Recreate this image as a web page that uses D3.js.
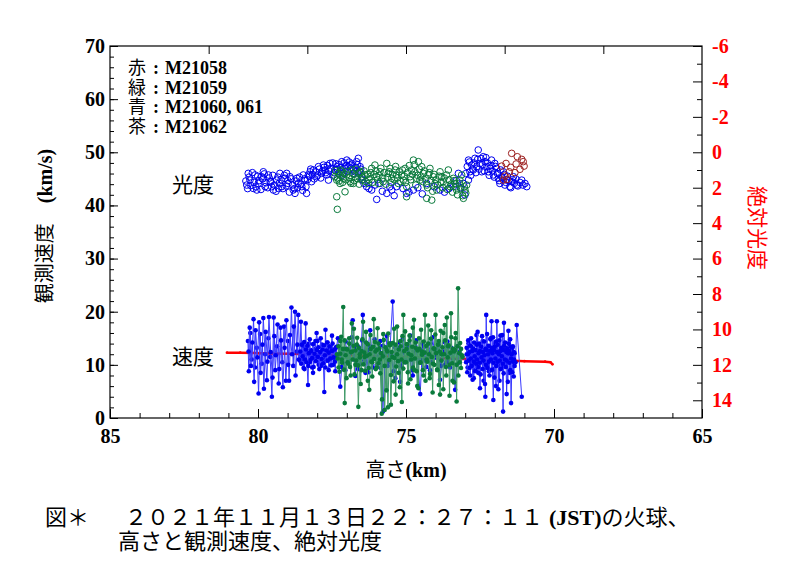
<!DOCTYPE html>
<html>
<head>
<meta charset="utf-8">
<title>火球 高さと観測速度、絶対光度</title>
<style>
  body { margin: 0; background: #fff; }
  svg { display: block; }
</style>
</head>
<body>
<svg width="800" height="580"></svg>
<script src="https://d3js.org/d3.v7.min.js"></script>
<script>
// ---- tick labels ----
var heightTicks = [85, 80, 75, 70, 65];
var speedTicks = [0, 10, 20, 30, 40, 50, 60, 70];
var magTicks = [-6, -4, -2, 0, 2, 4, 6, 8, 10, 12, 14];

// ---- legend ----
var legendColors = ["赤", "緑", "青", "茶"];
var legendNames = ["M21058", "M21059", "M21060, 061", "M21062"];

// ---- 観測速度 [高さ km, km/s] ----
var redSpeed = [[81.05,12.3],[80.6,12.3],[80.0,12.2],[79.0,12.1],[78.0,12.0],[77.0,11.8],[76.0,11.6],[75.0,11.5],
  [74.0,11.3],[73.0,11.1],[72.0,10.9],[71.0,10.7],[70.3,10.6],[70.12,10.5],[70.05,10.1]];

var blueSpeed060 = [
  [80.34,14.5],[80.31,8.8],[80.26,16.0],[80.21,11.0],[80.15,18.6],[80.10,9.5],[80.04,13.2],[79.98,4.6],
  [79.93,15.8],[79.87,10.2],[79.82,18.8],[79.76,12.0],[79.70,7.1],[79.65,15.0],[79.59,11.5],[79.53,4.0],
  [79.47,18.9],[79.42,9.0],[79.36,13.5],[79.30,6.5],[79.24,17.0],[79.18,10.5],[79.12,17.2],[79.06,7.0],
  [78.99,14.5],[78.95,7.0],[78.87,20.8],[78.81,9.8],[78.75,20.0],[78.69,12.5],[78.64,19.4],[78.59,10.8],
  [78.55,18.1],[78.51,11.0],[78.47,13.5],[78.43,9.2],[78.39,17.8],[78.36,12.0],[78.31,6.2],[78.28,14.0],
  [78.25,10.5],[78.21,12.8],[78.17,9.5],[78.14,8.5],[78.10,11.5],[78.06,13.0],[78.02,16.0],[77.99,14.5],
  [77.95,10.0],[77.91,12.2],[77.87,9.8],[77.84,13.8],[77.80,11.4],[77.76,4.9],[77.72,16.6],[77.69,10.8],
  [77.65,14.2],[77.61,9.0],[77.57,13.0],[77.54,11.2],[77.50,15.5],[77.46,10.0],[77.42,12.6],[77.39,8.8],
  [77.35,13.4],
  [77.30,15.0],[77.22,5.9],[77.13,12.5],[77.05,9.0],[76.96,13.0],[76.88,11.0],[76.80,18.4],[76.71,7.9],
  [76.63,13.5],[76.54,10.2],[76.46,19.4],[76.37,8.5],[76.29,12.8],[76.21,16.5],[76.12,9.5],[76.04,13.0],
  [75.95,11.5],[75.87,14.5],[75.78,1.2],[75.70,12.0],[75.62,9.8],[75.53,14.0],[75.45,21.9],[75.36,7.5],
  [75.28,13.2],[75.20,6.8],[75.11,14.8],[75.03,10.5],[74.94,12.4],[74.86,15.5],[74.77,8.0],[74.69,13.6],
  [74.61,11.0],[74.52,4.5],[74.44,14.0],[74.35,10.8],[74.27,12.6],[74.19,9.0],[74.10,15.2],[74.02,11.4],
  [73.93,13.0],[73.85,7.2],[73.76,12.2],[73.68,10.0],[73.60,14.4],[73.51,9.5],[73.43,12.8],[73.34,5.3],
  [73.26,13.5],[73.18,10.5],
  [72.95,12.0],[72.92,9.5],[72.89,14.0],[72.86,11.0],[72.83,8.0],[72.80,13.5],[72.77,10.2],[72.74,13.0],
  [72.71,7.5],[72.68,12.5],[72.65,9.0],[72.62,15.6],[72.59,11.0],[72.56,8.5],[72.53,13.8],[72.50,5.6],
  [72.47,12.5],[72.44,10.5],[72.41,14.5],[72.38,7.0],[72.35,12.8],[72.32,4.0],[72.29,19.4],[72.26,10.0],
  [72.23,13.5],[72.20,8.8],[72.17,11.5],[72.14,15.0],[72.11,18.2],[72.08,9.2],[72.05,3.4],[72.02,12.0],
  [71.99,14.0],[71.96,6.0],[71.93,18.2],[71.90,10.0],[71.87,12.5],[71.84,7.0],[71.81,15.5],[71.78,9.5],
  [71.75,11.8],[71.72,1.2],[71.69,17.9],[71.66,10.2],[71.63,13.2],[71.60,4.5],[71.57,12.0],[71.54,16.4],
  [71.51,8.5],[71.48,14.8],[71.45,2.8],[71.42,11.0],[71.39,13.5],[71.36,7.8],[71.33,12.2],[71.30,10.5],
  [71.26,17.5],[71.09,4.0]];

var blueSpeed061 = [
  [80.32,12.5],[80.28,17.0],[80.24,9.8],[80.19,14.2],[80.13,6.8],[80.08,16.5],[80.02,11.4],[79.96,18.0],
  [79.91,8.5],[79.85,13.8],[79.80,5.5],[79.74,16.2],[79.68,10.6],[79.63,19.0],[79.57,12.4],[79.51,7.6],
  [79.45,15.4],[79.40,11.8],[79.34,17.6],[79.28,9.2],[79.22,14.6],[79.16,5.8],[79.10,13.2],[79.04,18.4],
  [78.98,10.0],[78.92,15.6],[78.85,12.0],[78.79,17.2],[78.73,8.0],[78.67,13.8],[78.62,11.0],
  [78.57,12.5],[78.54,10.2],[78.52,13.8],[78.49,11.6],[78.46,9.4],[78.44,14.3],[78.41,11.0],[78.38,12.9],
  [78.36,10.5],[78.33,13.6],[78.30,9.8],[78.28,12.2],[78.25,14.8],[78.22,10.9],[78.20,12.6],[78.17,11.3],
  [78.14,13.9],[78.12,9.6],[78.09,12.1],[78.06,14.5],[78.04,10.7],[78.01,12.8],[77.98,11.5],[77.96,13.3],
  [77.93,9.2],[77.90,12.4],[77.88,15.0],[77.85,11.1],[77.82,12.9],[77.80,10.3],[77.77,13.7],[77.74,11.8],
  [77.72,9.5],[77.69,12.7],[77.66,14.2],[77.64,10.8],[77.61,12.3],[77.58,13.5],[77.56,11.2],[77.53,9.9],
  [77.50,12.6],[77.48,14.0],[77.45,11.4],[77.42,12.9],[77.40,10.6],[77.37,13.2],
  [77.32,11.5],[77.25,13.2],[77.18,9.6],[77.11,12.8],[77.04,14.4],[76.97,10.4],[76.90,12.2],[76.83,15.2],
  [76.76,11.0],[76.69,13.0],[76.62,9.2],[76.55,12.4],[76.48,14.6],[76.41,10.8],[76.34,12.6],[76.27,8.6],
  [76.20,13.4],[76.13,11.2],[76.06,14.8],[75.99,10.0],[75.92,12.8],[75.85,9.4],[75.78,13.6],[75.71,11.4],
  [75.64,15.4],[75.57,10.6],[75.50,12.0],[75.43,8.8],[75.36,13.2],[75.29,11.6],[75.22,14.2],[75.15,9.8],
  [75.08,12.4],[75.01,10.8],[74.94,13.8],[74.87,11.0],[74.80,9.0],[74.73,12.6],[74.66,14.6],[74.59,10.4],
  [74.52,12.8],[74.45,11.2],[74.38,13.4],[74.31,9.6],[74.24,12.2],[74.17,14.0],[74.10,10.6],[74.03,12.6],
  [73.96,11.4],[73.89,13.8],[73.82,9.8],[73.75,12.4],[73.68,14.2],[73.61,10.6],[73.54,12.0],[73.47,13.2],
  [73.40,11.0],[73.33,12.8],[73.26,10.2],[73.19,12.4],
  [72.97,10.5],[72.95,13.2],[72.93,8.6],[72.91,12.0],[72.90,14.6],[72.88,10.8],[72.86,12.4],[72.85,9.4],
  [72.83,13.6],[72.81,11.2],[72.80,15.0],[72.78,9.8],[72.76,12.6],[72.75,7.2],[72.73,13.0],[72.71,10.6],
  [72.70,14.2],[72.68,11.6],[72.66,8.8],[72.65,12.8],[72.63,10.2],[72.61,13.8],[72.60,11.0],[72.58,16.2],
  [72.56,9.6],[72.55,12.2],[72.53,14.0],[72.51,10.4],[72.50,12.6],[72.48,8.2],[72.46,13.4],[72.45,11.4],
  [72.43,15.4],[72.41,9.2],[72.40,12.4],[72.38,10.8],[72.36,14.4],[72.35,11.8],[72.33,6.4],[72.31,13.0],
  [72.30,10.0],[72.28,12.8],[72.26,15.8],[72.25,9.4],[72.23,12.0],[72.21,13.6],[72.20,10.6],[72.18,8.0],
  [72.16,12.6],[72.15,14.8],[72.13,11.0],[72.11,13.2],[72.10,9.0],[72.08,12.2],[72.06,15.2],[72.05,10.4],
  [72.03,12.8],[72.01,7.6],[72.00,13.4],[71.98,11.2],[71.96,14.4],[71.95,9.8],[71.93,12.4],[71.91,10.6],
  [71.90,13.8],[71.88,5.4],[71.86,12.0],[71.85,14.6],[71.83,10.8],[71.81,12.6],[71.80,9.2],[71.78,13.2],
  [71.76,11.6],[71.75,15.6],[71.73,10.2],[71.71,12.8],[71.70,8.4],[71.68,13.6],[71.66,11.0],[71.65,14.2],
  [71.63,9.6],[71.61,12.4],[71.60,10.8],[71.58,13.0],[71.56,6.8],[71.55,12.2],[71.53,14.0],[71.51,10.4],
  [71.50,12.6],[71.48,9.0],[71.46,13.4],[71.45,11.2],[71.43,12.0],[71.41,8.6],[71.40,13.2],[71.38,10.6],
  [71.36,12.4],[71.35,11.0],[71.33,9.8]];

var greenSpeed = [
  [77.33,12.0],[77.28,9.5],[77.22,14.5],[77.17,11.0],[77.12,20.9],[77.07,2.8],[77.02,13.0],[76.97,10.5],
  [76.92,15.0],[76.87,8.0],[76.82,12.5],[76.76,16.8],[76.71,10.0],[76.66,13.8],[76.61,2.1],[76.56,12.0],
  [76.50,9.0],[76.45,18.1],[76.40,11.5],[76.35,14.2],[76.29,7.0],[76.24,5.3],[76.19,13.0],[76.14,10.5],
  [76.09,18.6],[76.03,12.5],[75.98,9.5],[75.93,14.0],[75.88,11.0],[75.82,0.8],[75.77,15.8],[75.72,1.5],
  [75.66,12.8],[75.61,2.0],[75.56,14.0],[75.51,2.5],[75.46,11.5],[75.40,16.8],[75.35,4.4],[75.30,12.0],
  [75.25,8.5],[75.19,14.5],[75.14,3.0],[75.09,19.4],[75.04,10.5],[74.98,13.0],[74.93,6.5],[74.88,15.5],
  [74.82,11.0],[74.77,17.0],[74.72,9.0],[74.67,13.2],[74.62,6.0],[74.56,15.0],[74.51,10.5],[74.46,12.5],
  [74.41,8.0],[74.36,19.4],[74.30,11.0],[74.25,14.0],[74.20,7.5],[74.15,16.5],[74.09,10.2],[74.04,13.0],
  [74.00,19.4],[73.94,9.0],[73.89,14.5],[73.85,4.4],[73.80,12.0],[73.74,16.0],[73.69,17.5],[73.64,8.0],
  [73.58,13.5],[73.53,10.0],[73.48,19.7],[73.43,7.0],[73.38,12.5],[73.33,15.0],[73.29,3.1],[73.24,24.4],
  [73.19,10.5],[73.14,13.0],[73.09,11.5],
  [77.31,11.2],[77.28,13.5],[77.25,8.7],[77.22,12.1],[77.19,15.3],[77.16,10.4],[77.13,13.0],[77.10,9.1],
  [77.07,14.6],[77.04,11.8],[77.01,7.5],[76.98,12.9],[76.95,10.2],[76.92,14.0],[76.89,9.6],[76.86,12.4],
  [76.83,17.8],[76.80,11.0],[76.77,13.6],[76.74,8.2],[76.71,12.7],[76.68,10.8],[76.65,15.1],[76.62,9.9],
  [76.59,13.2],[76.56,11.4],[76.53,6.4],[76.50,12.6],[76.47,14.8],[76.44,10.1],[76.41,12.3],[76.38,8.9],
  [76.35,16.2],[76.32,11.7],[76.29,13.9],[76.26,9.4],[76.23,12.0],[76.20,15.6],[76.17,10.6],[76.14,7.8],
  [76.11,13.4],[76.08,11.1],[76.05,14.3],[76.02,9.2],[75.99,12.8],[75.96,16.9],[75.93,10.3],[75.90,13.1],
  [75.87,8.4],[75.84,12.2],[75.81,3.5],[75.78,11.6],[75.75,14.7],[75.72,9.8],[75.69,13.3],[75.66,5.2],
  [75.63,12.5],[75.60,15.9],[75.57,10.9],[75.54,13.7],[75.51,8.1],[75.48,12.4],[75.45,14.1],[75.42,6.9],
  [75.39,11.3],[75.36,13.8],[75.33,9.7],[75.30,17.2],[75.27,10.7],[75.24,12.9],[75.21,5.8],[75.18,13.5],
  [75.15,11.0],[75.12,15.4],[75.09,9.3],[75.06,12.6],[75.03,16.3],[75.00,10.5],[74.97,13.9],[74.94,8.6],
  [74.91,12.1],[74.88,14.6],[74.85,7.3],[74.82,11.8],[74.79,13.4],[74.76,9.5],[74.73,18.5],[74.70,11.2],
  [74.67,14.2],[74.64,8.8],[74.61,12.7],[74.58,5.6],[74.55,13.0],[74.52,10.4],[74.49,16.6],[74.46,11.9],
  [74.43,9.0],[74.40,14.4],[74.37,12.3],[74.34,7.0],[74.31,13.6],[74.28,10.6],[74.25,17.4],[74.22,12.0],
  [74.19,8.3],[74.16,14.9],[74.13,11.5],[74.10,4.8],[74.07,13.1],[74.04,10.0],[74.01,15.7],[73.98,12.2],
  [73.95,9.1],[73.92,13.8],[73.89,6.2],[73.86,12.5],[73.83,16.4],[73.80,10.8],[73.77,13.3],[73.74,5.4],
  [73.71,12.0],[73.68,14.6],[73.65,9.6],[73.62,18.9],[73.59,11.4],[73.56,13.7],[73.53,4.2],[73.50,12.3],
  [73.47,15.2],[73.44,10.3],[73.41,13.0],[73.38,6.7],[73.35,12.8],[73.32,16.0],[73.29,10.0],[73.26,13.5],
  [73.23,8.0],[73.20,12.2],[73.17,14.1],[73.14,9.4],[73.11,11.8]];

// ---- 絶対光度 [高さ km, 等級] ----
var blueMag = [
  [80.38,1.85],[80.33,1.19],[80.27,1.57],[80.16,2.04],[80.10,1.28],[80.04,2.13],[79.99,1.76],[79.88,1.38],
  [79.82,1.10],[79.76,1.94],[79.65,1.28],[79.59,1.66],[79.54,1.94],[79.48,2.13],[79.37,1.57],[79.31,2.04],
  [79.26,1.19],[79.20,1.94],[79.09,1.47],[79.03,1.19],[78.98,1.76],[78.92,1.38],[78.81,2.13],[78.75,2.32],
  [78.69,1.47],[78.64,1.76],[78.52,1.94],[78.47,1.28],[78.41,1.57],[78.36,2.32],
  [78.30,1.28],[78.24,1.10],[78.19,1.66],[78.13,1.00],[78.02,1.38],[77.96,0.81],[77.85,1.19],[77.79,0.72],
  [77.74,1.00],[77.68,1.28],[77.62,1.57],[77.57,0.63],[77.45,1.28],[77.40,1.00],[77.34,0.81],[77.23,1.10],
  [77.17,0.53],[77.12,1.19],[77.06,0.91],[77.00,0.44],[76.95,0.81],[76.89,0.72],[76.78,1.00],[76.72,1.10],
  [76.67,0.53],[76.61,0.34],[76.55,0.81],[76.50,1.38],
  [76.33,1.94],[76.16,2.13],[75.99,2.66],[75.88,1.76],[75.65,2.32],[75.48,2.13],[75.32,1.94],[74.98,2.32],
  [74.75,2.13],[74.30,1.76],[73.85,2.13],[73.40,1.94],[73.23,1.19],[73.06,1.76],[73.01,2.41],
  [72.89,1.57],[72.89,0.44],[72.84,1.10],[72.78,0.72],[72.73,1.00],[72.67,0.34],[72.61,0.81],[72.56,-0.13],
  [72.50,0.63],[72.44,1.10],[72.39,0.25],[72.33,0.53],[72.27,0.81],[72.22,1.10],[72.16,0.91],[72.11,0.44],
  [72.05,1.28],[72.00,0.63],[71.94,0.91],[71.88,1.47],[71.83,1.76],[71.77,1.38],[71.71,1.10],[71.66,1.85],
  [71.60,1.57],[71.49,1.94],[71.43,1.66],[71.37,1.38],[71.26,1.85],[71.09,1.57],[70.98,1.76],[70.92,1.94],
  [80.41,1.62],[80.35,2.05],[80.30,1.40],[80.24,1.88],[80.19,1.15],[80.13,1.70],[80.07,1.95],[80.01,1.35],
  [79.96,1.60],[79.90,2.10],[79.84,1.50],[79.79,1.22],[79.73,1.72],[79.67,2.00],[79.62,1.45],[79.56,1.68],
  [79.50,1.30],[79.45,1.85],[79.39,2.20],[79.33,1.40],[79.28,1.75],[79.22,1.55],[79.16,2.05],[79.11,1.30],
  [79.05,1.90],[78.99,1.60],[78.94,2.25],[78.88,1.50],[78.83,1.85],[78.77,2.05],[78.71,1.62],[78.66,2.00],
  [78.60,1.40],[78.55,1.80],[78.49,2.15],[78.43,1.50],[78.38,1.95],
  [78.33,1.55],[78.27,1.35],[78.22,0.95],[78.16,1.25],[78.10,1.50],[78.05,1.10],[77.99,1.30],[77.93,0.95],
  [77.88,1.45],[77.82,1.05],[77.77,0.85],[77.71,1.15],[77.65,0.75],[77.60,1.05],[77.54,0.90],[77.48,0.60],
  [77.43,1.15],[77.37,0.65],[77.32,0.95],[77.26,0.70],[77.20,0.85],[77.15,1.30],[77.09,0.60],[77.03,0.75],
  [76.98,1.05],[76.92,0.55],[76.86,0.90],[76.81,0.65],[76.75,1.20],[76.70,0.85],[76.64,0.70],[76.58,1.05],
  [76.53,0.95],[76.47,1.55],[76.42,1.75],
  [76.25,2.05],[76.05,1.85],[75.80,2.20],[75.55,1.95],[75.40,2.45],[75.10,2.05],[74.90,2.25],[74.60,2.00],
  [74.45,2.35],[74.05,1.95],[73.70,2.25],[73.55,2.05],[73.30,1.60],[73.15,2.00],
  [72.98,1.20],[72.93,0.80],[72.86,0.55],[72.81,1.30],[72.75,0.95],[72.70,0.60],[72.64,1.15],[72.58,0.40],
  [72.53,0.95],[72.47,0.35],[72.42,0.70],[72.36,1.05],[72.30,0.30],[72.25,0.60],[72.19,1.30],[72.13,0.75],
  [72.08,1.05],[72.02,1.40],[71.97,0.80],[71.91,1.20],[71.85,1.60],[71.80,1.00],[71.74,1.45],[71.68,1.25],
  [71.63,1.70],[71.57,1.35],[71.52,1.60],[71.46,2.00],[71.40,1.55],[71.34,1.75],[71.29,1.50],[71.22,1.90],
  [71.15,1.70],[71.05,1.85]];

var greenMag = [
  [77.40,1.38],[77.34,1.57],[77.29,1.19],[77.23,1.76],[77.23,1.28],[77.17,1.10],[77.12,1.47],[77.00,1.28],
  [76.89,1.66],[76.84,1.00],[76.78,1.76],[76.72,1.38],[76.61,1.19],[76.55,1.10],[76.50,1.57],[76.39,1.28],
  [76.27,1.76],[76.22,1.38],[76.16,0.91],[76.05,0.72],[75.99,1.38],[75.93,1.76],[75.88,1.10],[75.77,1.66],
  [75.65,0.63],[75.60,1.19],[75.54,0.91],[75.48,1.47],[75.37,1.00],[75.32,1.28],[75.26,1.76],[75.15,1.28],
  [75.09,1.57],[75.03,0.91],[74.98,1.94],[74.86,1.38],[74.81,1.00],[74.75,0.44],[74.70,1.10],[74.64,1.47],
  [74.58,0.53],[74.53,1.57],[74.47,0.81],[74.41,1.19],[74.30,1.85],[74.25,1.28],[74.19,0.91],[74.08,1.38],
  [74.02,1.76],[73.96,2.13],[73.85,1.10],[73.79,1.38],[73.74,1.66],[73.63,1.28],[73.57,1.00],[73.51,1.94],
  [73.40,1.47],[73.34,1.76],[73.29,2.13],[73.18,1.57],[73.12,1.28],[73.06,2.60],[73.01,2.13],[72.95,1.85],
  [77.34,2.51],[77.32,3.22],[77.06,2.23],[74.30,2.60],[74.13,2.70],[74.98,2.51],
  [77.38,1.05],[77.31,1.45],[77.26,1.62],[77.20,1.00],[77.14,1.70],[77.08,1.20],[77.03,1.55],[76.97,1.08],
  [76.92,1.45],[76.86,1.75],[76.80,1.20],[76.75,1.60],[76.69,0.95],[76.64,1.50],[76.58,1.80],[76.52,1.15],
  [76.47,1.40],[76.42,1.05],[76.36,1.65],[76.30,1.25],[76.25,1.55],[76.19,1.15],[76.13,1.70],[76.08,1.25],
  [76.02,1.05],[75.96,1.55],[75.91,1.30],[75.85,0.90],[75.79,1.45],[75.74,1.15],[75.68,1.80],[75.63,1.40],
  [75.57,1.10],[75.51,1.70],[75.46,1.25],[75.40,1.55],[75.35,0.80],[75.29,1.45],[75.23,1.10],[75.18,1.65],
  [75.12,1.00],[75.06,1.35],[75.01,1.70],[74.95,1.15],[74.89,0.75],[74.84,1.55],[74.78,1.25],[74.72,0.70],
  [74.67,1.85],[74.61,1.30],[74.55,0.95],[74.50,1.40],[74.44,1.65],[74.38,1.05],[74.33,1.50],[74.27,2.00],
  [74.21,1.15],[74.16,1.60],[74.10,2.20],[74.05,1.25],[73.99,1.55],[73.93,1.85],[73.88,1.35],[73.82,1.70],
  [73.76,2.00],[73.71,1.45],[73.65,1.85],[73.60,2.10],[73.54,1.55],[73.48,1.80],[73.43,2.25],[73.37,1.60],
  [73.31,1.95],[73.26,2.40],[73.20,1.75],[73.15,2.05],[73.09,2.45],[73.03,1.95],[72.98,2.30]];

var brownMag = [
  [71.43,0.06],[71.24,0.25],[71.09,0.40],[71.01,0.78],[71.15,0.96],[71.32,1.15],[71.51,1.10],[71.66,1.34],
  [71.71,1.57],[71.58,1.53],[71.77,0.78],[71.62,0.63],[71.46,0.85],[71.28,0.66],[71.04,0.53]];

// ---- drawing ----
var SERIF = "'Liberation Serif', 'Times New Roman', serif";
var JP = "'Noto Sans CJK JP', sans-serif";
var BLUE = "#0000f0", GREEN = "#0a7a3c", RED = "#ff0000", BROWN = "#9c1f1f";

var svg = d3.select("svg");
var plotL = 110, plotR = 702, plotT = 46, plotB = 418;

var x = d3.scaleLinear().domain([85, 65]).range([plotL, plotR]);
var ySpeed = d3.scaleLinear().domain([0, 70]).range([plotB, plotT]);
var yMag = d3.scaleLinear().domain([15, -6]).range([plotB, plotT]);
var xTop = d3.scaleLinear().domain([0, 6]).range([plotL, plotR]);

function clean(g) { g.select(".domain").remove(); g.selectAll("line").attr("stroke", "#000"); }
function labels(g, color) {
  g.selectAll("text").attr("font-family", SERIF).attr("font-weight", "bold")
    .attr("font-size", 20).attr("fill", color);
}

// minor ticks
svg.append("g").attr("transform", "translate(" + plotL + ",0)")
  .call(d3.axisLeft(ySpeed).tickValues(d3.range(0, 71, 2)).tickSize(-4).tickFormat(""))
  .call(clean);
svg.append("g").attr("transform", "translate(0," + plotB + ")")
  .call(d3.axisBottom(x).tickValues(d3.range(65, 86, 1)).tickSize(-5).tickFormat(""))
  .call(clean);
svg.append("g").attr("transform", "translate(" + plotR + ",0)")
  .call(d3.axisRight(yMag).tickValues(d3.range(-5, 15, 2)).tickSize(-5).tickFormat(""))
  .call(clean);
svg.append("g").attr("transform", "translate(0," + plotT + ")")
  .call(d3.axisTop(xTop).tickValues([1, 2, 3, 4, 5]).tickSize(-8).tickFormat(""))
  .call(clean);

// major ticks
svg.append("g").attr("transform", "translate(" + plotL + ",0)")
  .call(d3.axisLeft(ySpeed).tickValues(speedTicks).tickSize(-8).tickPadding(5))
  .call(clean).call(labels, "#000");
svg.append("g").attr("transform", "translate(0," + plotB + ")")
  .call(d3.axisBottom(x).tickValues(heightTicks).tickSize(-9).tickPadding(11))
  .call(clean).call(labels, "#000");
svg.append("g").attr("transform", "translate(" + plotR + ",0)")
  .call(d3.axisRight(yMag).tickValues(magTicks).tickSize(-9).tickPadding(10)
    .tickFormat(function (d) { return String(d); }))
  .call(clean).call(labels, RED);

// frame
svg.append("rect").attr("x", plotL).attr("y", plotT)
  .attr("width", plotR - plotL).attr("height", plotB - plotT)
  .attr("fill", "none").attr("stroke", "#000").attr("stroke-width", 1.2);

// brightness: open circles
function rings(data, color) {
  svg.append("g").selectAll("circle").data(data).enter().append("circle")
    .attr("cx", function (d) { return x(d[0]); })
    .attr("cy", function (d) { return yMag(d[1]); })
    .attr("r", 3.3).attr("fill", "none").attr("stroke", color).attr("stroke-width", 1);
}
rings(blueMag, BLUE);
rings(greenMag, GREEN);
rings(brownMag, BROWN);

// speed: lines with dots
var line = d3.line()
  .x(function (d) { return x(d[0]); })
  .y(function (d) { return ySpeed(d[1]); });

function trace(data, lineColor, dotColor, width, r) {
  svg.append("path").datum(data).attr("d", line)
    .attr("fill", "none").attr("stroke", lineColor).attr("stroke-width", width);
  svg.append("g").selectAll("circle").data(data).enter().append("circle")
    .attr("cx", function (d) { return x(d[0]); })
    .attr("cy", function (d) { return ySpeed(d[1]); })
    .attr("r", r).attr("fill", dotColor);
}
trace(redSpeed, RED, RED, 2.5, 1.3);
trace(blueSpeed060, "#3a3aff", BLUE, 1, 2.3);
trace(blueSpeed061, "#3a3aff", BLUE, 1, 2.3);
trace(greenSpeed, "#3f9a68", GREEN, 1, 2.3);

// legend
legendColors.forEach(function (c, i) {
  var yy = 74 + i * 19.5;
  svg.append("text").attr("x", 128).attr("y", yy).attr("font-family", JP).attr("font-size", 18).text(c);
  svg.append("text").attr("x", 153).attr("y", yy).attr("font-family", SERIF).attr("font-weight", "bold")
    .attr("font-size", 18).text(":");
  svg.append("text").attr("x", 165).attr("y", yy).attr("font-family", SERIF).attr("font-weight", "bold")
    .attr("font-size", 18).text(legendNames[i]);
});

// series labels
svg.append("text").attr("x", 172).attr("y", 192).attr("font-family", JP).attr("font-size", 21).text("光度");
svg.append("text").attr("x", 172).attr("y", 364).attr("font-family", JP).attr("font-size", 21).text("速度");

// axis titles
var yl = svg.append("text").attr("transform", "translate(52,226) rotate(-90)")
  .attr("text-anchor", "middle").attr("font-size", 20);
yl.append("tspan").attr("font-family", JP).text("観測速度　");
yl.append("tspan").attr("font-family", SERIF).attr("font-weight", "bold").text("(km/s)");

svg.append("text").attr("transform", "translate(750,228) rotate(90)")
  .attr("text-anchor", "middle").attr("font-family", JP).attr("font-size", 21)
  .attr("fill", RED).text("絶対光度");

var xl = svg.append("text").attr("x", (plotL + plotR) / 2).attr("y", 477)
  .attr("text-anchor", "middle").attr("font-size", 20);
xl.append("tspan").attr("font-family", JP).text("高さ");
xl.append("tspan").attr("font-family", SERIF).attr("font-weight", "bold").text("(km)");

// caption
svg.append("text").attr("x", 45).attr("y", 525).attr("font-family", JP).attr("font-size", 22).text("図＊");
var cap = svg.append("text").attr("x", 125).attr("y", 525).attr("font-size", 22);
cap.append("tspan").attr("font-family", JP).text("２０２１年１１月１３日２２：２７：１１");
cap.append("tspan").attr("font-family", SERIF).attr("font-weight", "bold").attr("dx", 6).text("(JST)");
cap.append("tspan").attr("font-family", JP).text("の火球、");
svg.append("text").attr("x", 118).attr("y", 549).attr("font-family", JP).attr("font-size", 22)
  .text("高さと観測速度、絶対光度");
</script>
</body>
</html>
